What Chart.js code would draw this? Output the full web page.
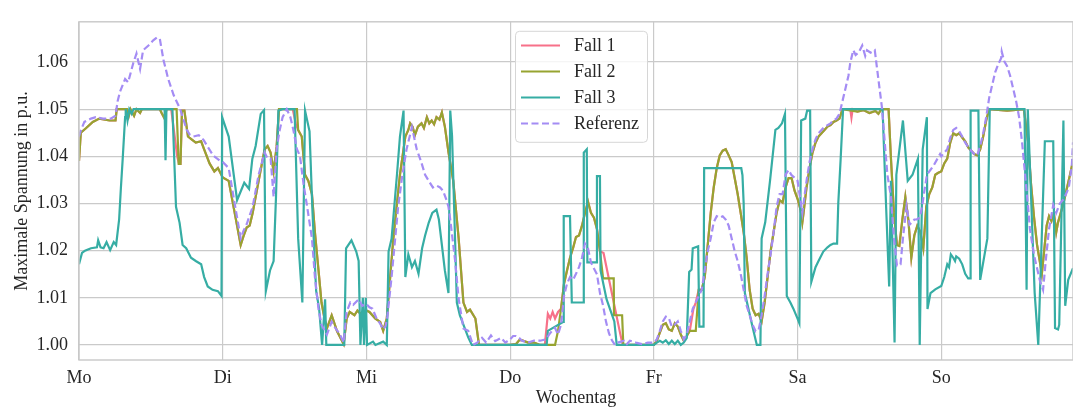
<!DOCTYPE html>
<html>
<head>
<meta charset="utf-8">
<script src="https://cdn.jsdelivr.net/npm/chart.js@4.4.1/dist/chart.umd.min.js"></script>
<style>
  html, body { margin: 0; padding: 0; background: #fff; }
  #wrap { width: 1073px; height: 409px; position: relative; }
</style>
</head>
<body>
<div id="wrap"><canvas id="myChart"></canvas></div>
<script>
// Achsen
const dayLabels = ["Mo", "Di", "Mi", "Do", "Fr", "Sa", "So"];
const dayTicks  = [0, 24, 48, 72, 96, 120, 144];   // Stunden seit Montag 0 Uhr
const yTicks    = [1.00, 1.01, 1.02, 1.03, 1.04, 1.05, 1.06];

// Messreihen: [Stunde, maximale Spannung in p.u.]
const fall1 = [
 [0,1.039],[0.3,1.045],[1.2,1.046],[2.3,1.0473],[3.4,1.048],[5.1,1.0476],[6.1,1.0476],[6.3,1.05],[8,1.05],[8.3,1.0485],[8.6,1.05],[9.2,1.0486],[9.6,1.05],[10.2,1.0492],[10.5,1.05],[13.5,1.05],[13.8,1.0492],[14.3,1.048],[14.6,1.05],[15.4,1.05],[16.4,1.040],[16.7,1.0384],[16.95,1.0384],[17.2,1.0497],[17.6,1.0497],[18.2,1.0442],[18.8,1.0436],[19.5,1.0429],[20.4,1.0432],[20.9,1.0415],[21.8,1.0385],[22.6,1.0368],[23.2,1.0375],[24,1.0355],
 [25,1.0348],[26,1.028],[27,1.0212],[27.5,1.0232],[28,1.0249],[28.5,1.0253],[29,1.028],[30,1.0348],[31,1.0415],[31.5,1.0422],[32,1.0408],[32.5,1.0368],[33,1.042],[33.4,1.05],[35.7,1.05],[36.2,1.047],[36.6,1.0456],[37.2,1.0442],[37.75,1.0361],[38.3,1.0348],[38.9,1.032],[39.4,1.0239],[40,1.0158],[40.5,1.009],[41,1.0056],[41.4,1.0035],[42.2,1.0063],[43.1,1.0029],[44.2,1.0002],[44.7,1.0056],[45.2,1.007],[46,1.0063],[46.5,1.0073],[47,1.0066],[48,1.0073],
 [48.5,1.007],[49.5,1.0056],[50.3,1.0049],[50.8,1.003],[51.4,1.0056],[52.5,1.0226],[53.6,1.0361],[54.5,1.0442],[55,1.0456],[55.3,1.047],[55.7,1.0463],[56.1,1.0445],[56.6,1.0463],[57.2,1.047],[57.6,1.046],[58.1,1.0483],[58.5,1.047],[58.9,1.0476],[59.3,1.0468],[59.7,1.0483],[60.2,1.0478],[60.6,1.0493],[61.1,1.0463],[61.7,1.0409],[62.5,1.0348],[63.4,1.0226],[64.2,1.009],[64.8,1.007],[65.3,1.0075],[66.2,1.0056],[66.8,1.0],
 [72,1.0],[73,1.0002],[73.5,1.001],[74,1.001],[75,1.0005],[76,1.0005],[77,1.0],[77.8,1.0],[78.3,1.0066],[78.7,1.0056],[79.1,1.007],[79.5,1.0056],[80,1.007],[80.5,1.0077],[81,1.013],[81.5,1.0158],[82,1.0185],[82.5,1.0205],[83,1.0229],[83.5,1.0232],[84,1.0253],[84.5,1.028],[85,1.0304],[85.5,1.028],[86,1.027],[86.5,1.0246],[87,1.0199],[87.6,1.0195],[90.4,1.0023],[90.8,1.0],
 [96,1.0],[96.5,1.0009],[97,1.0026],[97.5,1.0043],[98,1.0046],[98.5,1.0033],[99,1.003],[99.5,1.0046],[100,1.0039],[100.5,1.0022],[101,1.0009],[101.5,1.0019],[102,1.003],[102.6,1.0076],[103,1.009],[103.5,1.0117],[104,1.0117],[104.5,1.0144],[105,1.0212],[105.5,1.028],[106,1.0334],[106.5,1.0375],[107,1.0402],[107.5,1.0412],[108,1.0415],[108.5,1.0402],[109,1.0388],[109.5,1.0354],[110,1.032],[110.5,1.028],[111,1.0239],[111.5,1.0185],[112,1.0117],[112.5,1.0077],[113,1.0063],[113.5,1.0066],[114,1.005],[114.5,1.009],[115,1.0144],[115.5,1.0199],[116,1.0239],[116.5,1.028],[117,1.0307],[117.5,1.0302],[118,1.0334],[118.5,1.0354],[119,1.0354],[119.5,1.0327],[120,1.031],
 [120.5,1.0287],[120.8,1.026],[121,1.028],[121.5,1.0334],[122,1.0375],[122.5,1.0408],[123,1.0429],[123.5,1.0442],[124,1.0449],[124.5,1.0456],[125,1.0463],[125.5,1.0466],[126,1.0473],[126.5,1.0476],[127,1.048],[127.5,1.05],[128.8,1.05],[129,1.0482],[129.2,1.05],[130,1.0495],[131,1.0498],[132,1.0492],[133,1.0496],[133.5,1.049],[134,1.05],[135.2,1.05],[135.6,1.0395],[136.1,1.028],[136.6,1.0212],[137,1.021],[137.5,1.0266],[138,1.0314],[138.5,1.0266],[139,1.0185],[139.5,1.0232],[140,1.0253],[140.5,1.024],[141,1.0205],[141.5,1.0293],[142,1.032],[142.5,1.0334],[143,1.0361],[143.5,1.0365],[144,1.0368],
 [144.5,1.0385],[145,1.0395],[145.5,1.0429],[146,1.0449],[146.5,1.0445],[147,1.0449],[147.5,1.044],[148,1.0432],[148.5,1.0419],[149,1.0412],[149.5,1.0405],[150,1.0402],[150.5,1.0415],[151,1.0442],[151.5,1.0476],[152,1.05],[155,1.0497],[156,1.0498],[157.8,1.05],[158.5,1.043],[159,1.034],[159.5,1.027],[160,1.0212],[160.8,1.0151],[161.6,1.0253],[162,1.0273],[162.4,1.0263],[162.8,1.028],[163.2,1.0239],[163.5,1.026],[164.4,1.03],[165.5,1.0361],[166,1.039]
];

const fall2 = [
 [0,1.039],[0.3,1.045],[1.2,1.046],[2.3,1.0473],[3.4,1.048],[5.1,1.0476],[6.1,1.0476],[6.3,1.05],[8,1.05],[8.3,1.0485],[8.6,1.05],[9.2,1.0486],[9.6,1.05],[10.2,1.0492],[10.5,1.05],[13.5,1.05],[13.8,1.0492],[14.3,1.048],[14.6,1.05],[16.3,1.05],[16.65,1.0384],[16.95,1.0384],[17.2,1.0497],[17.6,1.0497],[18.2,1.0442],[18.8,1.0436],[19.5,1.0429],[20.4,1.0432],[20.9,1.0415],[21.8,1.0385],[22.6,1.0368],[23.2,1.0375],[24,1.0355],
 [25,1.0348],[26,1.028],[27,1.0212],[27.5,1.0232],[28,1.0249],[28.5,1.0253],[29,1.028],[30,1.0348],[31,1.0415],[31.5,1.0422],[32,1.0408],[32.5,1.0368],[33,1.042],[33.4,1.05],[36.4,1.05],[36.6,1.0456],[37.2,1.0442],[37.75,1.0361],[38.3,1.0348],[38.9,1.032],[39.4,1.0239],[40,1.0158],[40.5,1.009],[41,1.0056],[41.4,1.0035],[42.2,1.0063],[43.1,1.0029],[44.2,1.0002],[44.7,1.0056],[45.2,1.007],[46,1.0063],[46.5,1.0073],[47,1.0066],[48,1.0073],
 [48.5,1.007],[49.5,1.0056],[50.3,1.0049],[50.8,1.003],[51.4,1.0056],[52.5,1.0226],[53.6,1.0361],[54.5,1.0442],[55,1.0456],[55.3,1.047],[55.7,1.0463],[56.1,1.0445],[56.6,1.0463],[57.2,1.047],[57.6,1.046],[58.1,1.0483],[58.5,1.047],[58.9,1.0476],[59.3,1.0468],[59.7,1.0483],[60.2,1.0478],[60.6,1.0493],[61.1,1.0463],[61.7,1.0409],[62.5,1.0348],[63.4,1.0226],[64.2,1.009],[64.8,1.007],[65.3,1.0075],[66.2,1.0056],[66.8,1.0],
 [72,1.0],[73,1.0002],[73.5,1.001],[74,1.001],[75,1.0005],[76,1.0005],[77,1.0],[79.5,1.0],[80,1.003],[80.5,1.0077],[81,1.013],[81.5,1.0158],[82,1.0185],[82.5,1.0205],[83,1.0229],[83.5,1.0232],[84,1.0253],[84.5,1.028],[85,1.0304],[85.5,1.028],[86,1.027],[86.5,1.0246],[87,1.0199],[87.5,1.0144],[87.6,1.0141],[89.3,1.0141],[89.35,1.0063],[90.7,1.0063],[90.9,1.0],
 [96,1.0],[96.5,1.0009],[97,1.0026],[97.5,1.0043],[98,1.0046],[98.5,1.0033],[99,1.003],[99.5,1.0046],[100,1.0039],[100.5,1.0022],[101,1.0009],[101.5,1.0019],[102,1.003],[103,1.003],[103.5,1.0117],[104,1.0117],[104.5,1.0144],[105,1.0212],[105.5,1.028],[106,1.0334],[106.5,1.0375],[107,1.0402],[107.5,1.0412],[108,1.0415],[108.5,1.0402],[109,1.0388],[109.5,1.0354],[110,1.032],[110.5,1.028],[111,1.0239],[111.5,1.0185],[112,1.0117],[112.5,1.0077],[113,1.0063],[113.5,1.0066],[114,1.005],[114.5,1.009],[115,1.0144],[115.5,1.0199],[116,1.0239],[116.5,1.028],[117,1.0307],[117.5,1.0302],[118,1.0334],[118.5,1.0354],[119,1.0354],[119.5,1.0327],[120,1.031],
 [120.5,1.0287],[120.8,1.026],[121,1.028],[121.5,1.0334],[122,1.0375],[122.5,1.0408],[123,1.0429],[123.5,1.0442],[124,1.0449],[124.5,1.0456],[125,1.0463],[125.5,1.0466],[126,1.0473],[126.5,1.0476],[127,1.048],[127.5,1.05],[130,1.0495],[131,1.0498],[132,1.0492],[133,1.0496],[133.5,1.049],[134,1.05],[135.2,1.05],[135.6,1.0395],[136.1,1.028],[136.6,1.0212],[137,1.021],[137.5,1.0266],[138,1.0314],[138.5,1.0266],[139,1.0185],[139.5,1.0232],[140,1.0253],[140.5,1.024],[141,1.0205],[141.5,1.0293],[142,1.032],[142.5,1.0334],[143,1.0361],[143.5,1.0365],[144,1.0368],
 [144.5,1.0385],[145,1.0395],[145.5,1.0429],[146,1.0449],[146.5,1.0445],[147,1.0449],[147.5,1.044],[148,1.0432],[148.5,1.0419],[149,1.0412],[149.5,1.0405],[150,1.0402],[150.5,1.0415],[151,1.0442],[151.5,1.0476],[152,1.05],[155,1.0497],[156,1.0498],[157.8,1.05],[158.5,1.043],[159,1.034],[159.5,1.027],[160,1.0212],[160.8,1.0151],[161.6,1.0253],[162,1.0273],[162.4,1.0263],[162.8,1.028],[163.2,1.0239],[163.5,1.026],[164.4,1.03],[165.5,1.0361],[166,1.039]
];

const fall3 = [
 [0,1.0171],[0.5,1.0195],[1,1.02],[2,1.0205],[3,1.0207],[3.2,1.0222],[3.6,1.0207],[4.1,1.0205],[4.6,1.0218],[5.2,1.0201],[5.8,1.0218],[6.2,1.0212],[6.7,1.0266],[7,1.0334],[7.3,1.0395],[7.7,1.0483],[7.8,1.05],[8.1,1.0476],[8.4,1.05],[8.8,1.049],[9.1,1.05],[14.3,1.05],[14.45,1.0392],[14.6,1.05],[15.6,1.05],[16.2,1.0293],[16.8,1.0259],[17.3,1.0212],[17.9,1.0205],[18.7,1.0185],[19.5,1.0178],[20.4,1.0171],[20.9,1.0144],[21.5,1.0124],[22.3,1.0117],[23.2,1.0114],[23.8,1.0104],
 [23.9,1.0483],[25,1.0442],[26.4,1.0307],[27.6,1.0344],[28.4,1.0331],[28.95,1.0395],[29.5,1.0422],[30.35,1.049],[30.9,1.0498],[31.2,1.0114],[31.9,1.0158],[32.5,1.0178],[32.9,1.0314],[33.3,1.0497],[34,1.05],[36,1.05],[36.6,1.0226],[37.3,1.009],[37.75,1.0497],[38.5,1.0453],[39,1.028],[39.6,1.0115],[40.1,1.0077],[40.6,1.0],[41.1,1.0097],[41.3,1.0],[44.3,1.0],[44.6,1.0205],[45.5,1.0222],[46.3,1.0198],[46.7,1.0178],[47,1.0],[47.4,1.01],[47.6,1.0],[47.9,1.01],[48.1,1.0],
 [49.1,1.0007],[49.5,1.0],[50.8,1.0007],[51.4,1.0],[51.7,1.0198],[52.2,1.0225],[53.1,1.0361],[53.6,1.0442],[54.2,1.0497],[54.5,1.0144],[55,1.0192],[55.6,1.0165],[56.1,1.0178],[56.7,1.0151],[57.3,1.0205],[57.8,1.0232],[58.4,1.0259],[59,1.028],[59.7,1.0287],[60.1,1.0266],[60.6,1.0212],[61.1,1.0158],[61.7,1.011],[62,1.0497],[62.3,1.0443],[62.8,1.0226],[63.1,1.009],[63.6,1.0063],[64.4,1.0036],[65,1.0016],[65.6,1.0],
 [78.1,1.0],[78.3,1.003],[80.9,1.0049],[80.95,1.0273],[82,1.0273],[82.3,1.009],[84.2,1.009],[84.3,1.0408],[84.8,1.0415],[84.9,1.0175],[86.4,1.0175],[86.5,1.0358],[87,1.0358],[87.1,1.0158],[88.1,1.0097],[89.4,1.005],[89.8,1.0],
 [96,1.0],[96.5,1.0005],[97,1.0009],[97.5,1.0005],[98,1.001],[98.5,1.0002],[99,1.0009],[99.5,1.0002],[100,1.0009],[100.5,1.0],[101,1.0005],[101.5,1.0015],[101.9,1.0155],[102.3,1.016],[102.5,1.0205],[103.4,1.0209],[103.6,1.0039],[104.3,1.0039],[104.4,1.0375],[110.6,1.0375],[110.8,1.036],[111,1.03],[111.2,1.011],[111.8,1.0077],[112.4,1.0043],[112.9,1.0016],[113.2,1.0],[113.8,1.0],[114,1.0226],[114.6,1.026],[115.4,1.0348],[116.3,1.0456],[116.8,1.046],[117.4,1.047],[117.9,1.049],[118.2,1.0104],[118.8,1.009],[119.3,1.0077],[120,1.0056],[120.3,1.0046],
 [120.6,1.0476],[121.3,1.048],[121.6,1.0497],[122.1,1.0497],[122.3,1.0134],[123,1.0165],[123.5,1.0178],[124.3,1.0198],[125,1.0207],[125.5,1.0212],[126,1.0215],[126.6,1.0215],[126.8,1.03],[127.2,1.0395],[127.6,1.05],[134.2,1.05],[134.8,1.029],[135.3,1.0124],[135.6,1.0348],[136.2,1.0005],[136.5,1.0361],[137.6,1.0476],[138.4,1.0348],[139.2,1.0361],[140.1,1.0395],[140.4,1.0],[140.9,1.0415],[141.6,1.0483],[141.7,1.0076],[142.2,1.011],[143,1.0118],[144,1.0125],
 [144.5,1.0144],[145,1.0171],[145.3,1.0165],[145.6,1.0192],[146,1.0185],[146.3,1.0178],[146.5,1.0188],[147,1.0183],[147.5,1.0171],[148,1.0151],[148.5,1.0141],[148.8,1.0141],[148.9,1.0497],[150.2,1.0497],[150.5,1.0138],[151.7,1.0226],[152.1,1.05],[157.9,1.05],[158.25,1.0117],[158.45,1.05],[159.6,1.011],[160.2,1.0],[161.3,1.0432],[162.7,1.0432],[163,1.0036],[163.5,1.0033],[163.7,1.0043],[164.4,1.0476],[164.7,1.0083],[165.2,1.0138],[166,1.0163]
];

const referenz = [
 [0,1.0442],[0.33,1.0456],[0.9,1.0473],[2,1.048],[2.8,1.0483],[4,1.048],[5.3,1.048],[6.1,1.0486],[6.45,1.0517],[6.85,1.0537],[7.7,1.0564],[8.2,1.0557],[9.07,1.0598],[9.6,1.0618],[10.2,1.0585],[10.7,1.0625],[11.6,1.0635],[12.4,1.0646],[13,1.0652],[13.5,1.0649],[14.1,1.0605],[14.9,1.0564],[15.8,1.053],[16.9,1.05],[18,1.0456],[18.5,1.0446],[19.1,1.0442],[20,1.0445],[20.8,1.0435],[21.5,1.042],[22.4,1.0402],[23.6,1.039],
 [24,1.0388],[25,1.0375],[26,1.03],[27,1.0226],[27.5,1.0243],[28,1.0256],[29,1.0293],[30,1.0361],[31,1.0408],[31.5,1.0395],[32,1.0395],[32.5,1.0314],[33,1.0415],[33.5,1.0455],[34,1.0483],[34.7,1.05],[35.3,1.0483],[35.8,1.0456],[36.4,1.0415],[36.9,1.0401],[37.5,1.0341],[38.2,1.0285],[38.9,1.0226],[39.4,1.0144],[40,1.0076],[40.5,1.0043],[41.4,1.0022],[42.2,1.0049],[42.8,1.0036],[43.6,1.0022],[44.2,1.0005],[44.7,1.007],[45.3,1.009],[45.8,1.0085],[46.7,1.0097],[47.3,1.0083],[48,1.0087],
 [48.5,1.008],[49,1.0077],[49.7,1.0056],[50.3,1.0045],[50.8,1.0033],[51.2,1.004],[51.5,1.006],[52.2,1.0144],[53.3,1.0293],[54,1.036],[54.7,1.0415],[55.6,1.0462],[56.4,1.0415],[57.1,1.039],[57.8,1.0361],[58.4,1.0348],[59.1,1.0334],[59.7,1.0338],[60.3,1.0334],[60.8,1.0327],[61.3,1.031],[61.7,1.0293],[62,1.0266],[62.8,1.018],[63.4,1.0098],[64.2,1.0035],[65,1.003],[65.8,1.0],[66.5,1.0005],[67.3,1.0015],[68,1.0005],[68.8,1.002],[69.5,1.0008],[70.5,1.0015],[71.2,1.0005],[72,1.0012],
 [72.5,1.0019],[73,1.0019],[73.5,1.0015],[74,1.0009],[75,1.0005],[76,1.0009],[77,1.0009],[78,1.0012],[78.5,1.0022],[79,1.003],[79.5,1.0036],[80,1.0022],[80.5,1.0043],[81,1.0104],[81.5,1.013],[82,1.0144],[82.5,1.0138],[83,1.0151],[83.5,1.0165],[84,1.0185],[84.5,1.0215],[85,1.0205],[85.5,1.0175],[86,1.0162],[86.5,1.015],[87,1.011],[87.5,1.0085],[88,1.005],[88.5,1.0025],[89,1.001],[89.5,1.0],[90,1.0005],[91,1.0009],[91.5,1.0002],[92,1.0009],[93,1.0005],[94,1.0002],[95,1.0005],[96,1.0005],
 [96.5,1.0012],[97,1.003],[97.5,1.005],[98,1.006],[98.5,1.0057],[99,1.0039],[99.5,1.0043],[100,1.005],[100.5,1.003],[101,1.0012],[101.5,1.0022],[102,1.005],[102.5,1.0077],[103,1.009],[103.5,1.0104],[104,1.0117],[104.5,1.0158],[105,1.0199],[105.5,1.0226],[106,1.026],[106.5,1.0273],[107,1.027],[107.5,1.0273],[108,1.0266],[108.5,1.0253],[109,1.0226],[109.5,1.0199],[110,1.0178],[110.5,1.0151],[111,1.0117],[111.5,1.0083],[112,1.0063],[112.5,1.0043],[113,1.0029],[113.5,1.0032],[114,1.0063],[114.5,1.0104],[115,1.0151],[115.5,1.0192],[116,1.0239],[116.5,1.0293],[117,1.032],[117.5,1.032],[118,1.0361],[118.5,1.0371],[119,1.036],[119.5,1.0355],[120,1.0348],
 [120.5,1.0307],[120.8,1.028],[121,1.03],[121.5,1.0348],[122,1.0388],[122.5,1.0415],[123,1.0436],[123.5,1.0449],[124,1.0456],[124.5,1.0463],[125,1.0466],[125.5,1.047],[126,1.0476],[126.5,1.048],[127,1.049],[127.5,1.0517],[128,1.0544],[128.5,1.0571],[128.8,1.0598],[129.3,1.0625],[129.7,1.0615],[130.2,1.062],[130.8,1.0635],[131.3,1.0613],[131.6,1.0625],[132.2,1.062],[132.9,1.0625],[133.2,1.0594],[134.1,1.0503],[135,1.0361],[135.6,1.0314],[136.1,1.0226],[136.6,1.0168],[137.2,1.0171],[137.6,1.0226],[138.2,1.0295],[138.7,1.0255],[139.1,1.026],[139.5,1.0266],[139.9,1.0266],[140.4,1.027],[140.8,1.0293],[141.1,1.032],[141.6,1.0361],[142.7,1.038],[143.8,1.0405],[144,1.040],
 [144.5,1.0408],[145,1.0415],[145.5,1.0439],[146,1.0456],[146.5,1.046],[147,1.0453],[147.5,1.0442],[148,1.0429],[148.5,1.042],[149,1.0412],[149.5,1.0405],[150,1.0402],[150.5,1.0422],[151,1.0449],[151.5,1.0483],[152,1.0524],[152.5,1.0551],[153,1.0578],[153.5,1.0595],[154,1.0608],[154.1,1.0622],[154.5,1.0602],[155,1.0591],[155.5,1.0571],[156,1.0544],[156.5,1.0517],[157,1.0483],[157.5,1.0429],[158,1.0361],[158.5,1.0293],[158.8,1.0246],[159.5,1.019],[160.5,1.0135],[161,1.0117],[161.5,1.0185],[162,1.0246],[162.7,1.0297],[163.2,1.028],[163.8,1.03],[164.5,1.031],[165.3,1.0334],[165.8,1.038],[166,1.043]
];

const toPoints = (arr) => arr.map(p => ({ x: p[0], y: p[1] }));

// Rahmen um die Zeichenflaeche (wie bei seaborn whitegrid)
const frame = {
  id: "frame",
  afterDatasetsDraw(chart) {
    const a = chart.chartArea, ctx = chart.ctx;
    ctx.save();
    ctx.strokeStyle = "#c8c8c8";
    ctx.lineWidth = 1.4;
    ctx.strokeRect(a.left, a.top, a.right - a.left, a.bottom - a.top);
    ctx.restore();
  }
};

// Legende oben in der Mitte, innerhalb der Zeichenflaeche
const legendBox = {
  id: "legendBox",
  afterDraw(chart) {
    const ctx = chart.ctx, a = chart.chartArea;
    const x0 = a.left + 436, y0 = a.top + 9, w = 132, h = 111;
    ctx.save();
    ctx.beginPath();
    ctx.roundRect(x0 + 0.5, y0 + 0.5, w, h, 4);
    ctx.fillStyle = "rgba(255,255,255,0.8)";
    ctx.fill();
    ctx.strokeStyle = "#d6d6d6";
    ctx.lineWidth = 1;
    ctx.stroke();
    chart.data.datasets.forEach((ds, i) => {
      const y = y0 + 14.7 + i * 26;
      ctx.beginPath();
      ctx.setLineDash(ds.borderDash || []);
      ctx.strokeStyle = ds.borderColor;
      ctx.lineWidth = 2.2;
      ctx.moveTo(x0 + 6, y);
      ctx.lineTo(x0 + 45, y);
      ctx.stroke();
      ctx.setLineDash([]);
      ctx.fillStyle = "#262626";
      ctx.font = "18px 'Liberation Serif', 'Times New Roman', serif";
      ctx.textBaseline = "middle";
      ctx.fillText(ds.label, x0 + 59, y + 1);
    });
    ctx.restore();
  }
};

Chart.defaults.font.family = "'Liberation Serif', 'Times New Roman', serif";
Chart.defaults.font.size = 18;
Chart.defaults.color = "#262626";

const lineStyle = { borderWidth: 2.2, pointRadius: 0, fill: false, tension: 0 };

new Chart(document.getElementById("myChart"), {
  type: "line",
  data: {
    datasets: [
      { ...lineStyle, label: "Fall 1",   data: toPoints(fall1),    borderColor: "#f77189", order: 4 },
      { ...lineStyle, label: "Fall 2",   data: toPoints(fall2),    borderColor: "#97a431", order: 3 },
      { ...lineStyle, label: "Fall 3",   data: toPoints(fall3),    borderColor: "#36ada4", order: 2 },
      { ...lineStyle, label: "Referenz", data: toPoints(referenz), borderColor: "#a48cf4", borderDash: [7, 3.5], order: 1 }
    ]
  },
  options: {
    responsive: true,
    maintainAspectRatio: false,
    animation: false,
    layout: { padding: { left: 0, right: 0, top: 7, bottom: 0 }, autoPadding: false },
    plugins: { legend: { display: false }, tooltip: { enabled: false } },
    scales: {
      x: {
        type: "linear",
        min: 0,
        max: 166,
        afterBuildTicks: s => { s.ticks = dayTicks.map(v => ({ value: v })); },
        afterFit: s => { s.height = 49; },
        ticks: {
          autoSkip: false, maxRotation: 0, padding: 7,
          callback: v => dayLabels[dayTicks.indexOf(v)]
        },
        grid: { color: "#cacaca", lineWidth: 1.2, drawTicks: false },
        border: { display: false },
        title: { display: true, text: "Wochentag", padding: { top: 0, bottom: 0 } }
      },
      y: {
        min: 0.99681,
        max: 1.06853,
        afterBuildTicks: s => { s.ticks = yTicks.map(v => ({ value: v })); },
        afterFit: s => { s.width = 79; },
        ticks: { padding: 11, callback: v => v.toFixed(2) },
        grid: { color: "#cacaca", lineWidth: 1.2, drawTicks: false },
        border: { display: false },
        title: { display: true, text: "Maximale Spannung in p.u.", padding: { top: 11, bottom: 0 } }
      }
    }
  },
  plugins: [frame, legendBox]
});
</script>
</body>
</html>
